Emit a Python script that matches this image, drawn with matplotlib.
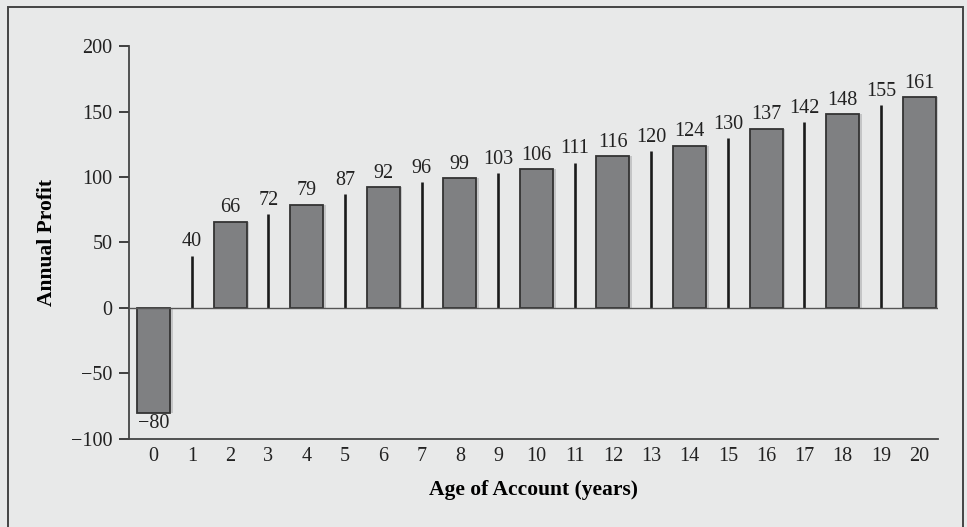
import matplotlib.pyplot as plt
from matplotlib.patches import Rectangle

plt.rcParams['font.family'] = ['Liberation Serif', 'DejaVu Serif']

years = list(range(0, 21))
profit = [-80, 40, 66, 72, 79, 87, 92, 96, 99, 103, 106, 111, 116, 120,
          124, 130, 137, 142, 148, 155, 161]
yticks = [-100, -50, 0, 50, 100, 150, 200]

BG = '#e8e9e9'


def main():
    fig = plt.figure(figsize=(9.67, 5.27), dpi=100, facecolor=BG)
    ax = fig.add_axes([0.1334, 0.167, 0.837, 0.7457], facecolor=BG)

    # outer frame around the whole figure (bottom edge runs off the image)
    fig.patches.append(Rectangle((0.008, -0.02), 0.988, 1.007, transform=fig.transFigure,
                                 fill=False, edgecolor='#444444', linewidth=1.4))

    even_x = [x for x in years if x % 2 == 0]
    even_y = [profit[x] for x in years if x % 2 == 0]
    odd_x = [x for x in years if x % 2 == 1]
    odd_y = [profit[x] for x in years if x % 2 == 1]

    # soft shadow behind the wide bars
    ax.bar([x + 0.07 for x in even_x], even_y, width=0.86, color='#c4c5c6',
           edgecolor='none', zorder=1)
    ax.bar(even_x, even_y, width=0.86, color='#7f8082', edgecolor='#333333',
           linewidth=1.3, zorder=2)
    ax.vlines(odd_x, 0, odd_y, color='#1a1a1a', linewidth=1.9, zorder=2)

    ax.axhline(0, color='#555555', linewidth=1.0, zorder=3)

    for x, v in zip(years, profit):
        if v >= 0:
            ax.annotate(str(v), (x, v), xytext=(0, 3), textcoords='offset points',
                        ha='center', va='bottom', fontsize=14.5, color='#222222')
        else:
            ax.annotate('\u2212' + str(-v), (x, v), xytext=(0, -1), textcoords='offset points',
                        ha='center', va='top', fontsize=14.5, color='#222222')

    ax.set_xlim(-0.64, 20.5)
    ax.set_ylim(-100, 200)
    ax.set_xticks(years)
    ax.set_yticks(yticks)
    ax.set_yticklabels([('\u2212' + str(-t)) if t < 0 else str(t) for t in yticks])
    ax.tick_params(axis='x', length=0, pad=6, labelsize=14.5, colors='#222222')
    ax.tick_params(axis='y', length=7, width=1.2, pad=5, labelsize=14.5,
                   colors='#222222', direction='out')

    for s in ['top', 'right']:
        ax.spines[s].set_visible(False)
    for s in ['left', 'bottom']:
        ax.spines[s].set_color('#444444')
        ax.spines[s].set_linewidth(1.3)

    ax.set_xlabel('Age of Account (years)', fontsize=15.5, fontweight='bold', labelpad=10)
    ax.set_ylabel('Annual Profit', fontsize=15.5, fontweight='bold', labelpad=10)

    fig.savefig('out.png', dpi=100, facecolor=BG)


if __name__ == '__main__':
    main()
